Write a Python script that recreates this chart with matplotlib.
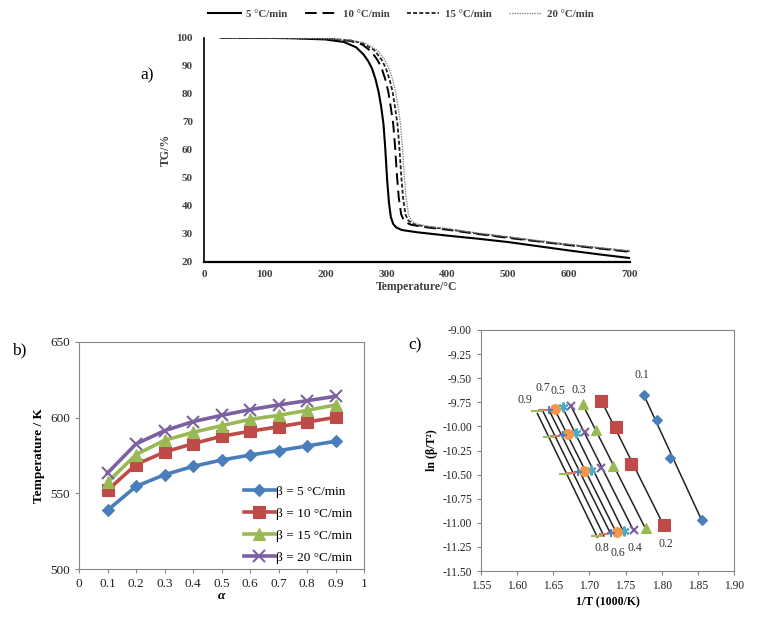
import numpy as np
import matplotlib
matplotlib.use("Agg")
import matplotlib.pyplot as plt

plt.rcParams['font.family'] = ['Liberation Serif', 'DejaVu Serif']

# ---- panel a: TG curves ----
tg_rates = ['5 °C/min', '10 °C/min', '15 °C/min', '20 °C/min']
temp_5 = [27, 100, 150, 200, 230, 250, 262, 270, 276, 282, 287, 291, 295, 298, 301, 304, 307, 311, 316, 325, 350, 400, 450, 500, 550, 600, 650, 700]
tg_5 = [100, 99.9, 99.7, 99.3, 98.4, 96.5, 94, 91.5, 89, 85, 80.5, 75.5, 69, 60, 49, 41, 36, 33.5, 32.3, 31.4, 30.6, 29.4, 28.3, 27.1, 25.6, 24.1, 22.7, 21.4]
temp_10 = [27, 100, 150, 200, 240, 260, 275, 285, 292, 298, 303, 307, 311, 314, 317, 320, 324, 328, 333, 340, 360, 400, 450, 500, 550, 600, 650, 700]
tg_10 = [100, 99.9, 99.8, 99.5, 98.8, 97.5, 95, 92, 89, 85, 80.5, 75, 69, 61, 51, 43, 37, 35, 34, 33.3, 32.5, 31.5, 30.0, 28.6, 27.3, 26.0, 24.8, 23.6]
temp_15 = [27, 100, 150, 200, 240, 260, 280, 292, 299, 305, 310, 314, 318, 321, 324, 327, 331, 335, 340, 347, 365, 400, 450, 500, 550, 600, 650, 700]
tg_15 = [100, 99.9, 99.8, 99.6, 99, 98, 95.5, 92, 89, 85, 80.5, 75, 69, 61, 51, 43, 37, 35, 34, 33.3, 32.6, 31.7, 30.1, 28.8, 27.4, 26.1, 24.9, 23.8]
temp_20 = [27, 100, 150, 200, 240, 265, 285, 297, 304, 310, 315, 319, 323, 326, 329, 332, 336, 340, 345, 352, 370, 400, 450, 500, 550, 600, 650, 700]
tg_20 = [100, 99.9, 99.8, 99.6, 99.1, 98, 95.5, 92, 89, 85, 80.5, 75, 69, 61, 51, 43, 37, 35, 34, 33.4, 32.7, 31.9, 30.3, 29.0, 27.6, 26.3, 25.1, 24.0]

# ---- panel b: temperature vs conversion ----
alpha = [0.1, 0.2, 0.3, 0.4, 0.5, 0.6, 0.7, 0.8, 0.9]
T_b5 = [538.8, 554.6, 562.3, 567.8, 572.0, 575.3, 578.2, 581.3, 584.4]
T_b10 = [552.0, 569.0, 577.3, 582.8, 587.7, 591.0, 594.0, 597.1, 600.2]
T_b15 = [557.3, 575.6, 585.0, 590.3, 594.7, 598.9, 601.5, 604.8, 608.4]
T_b20 = [563.4, 582.6, 591.4, 597.4, 601.5, 605.3, 608.4, 611.2, 614.1]
beta_labels = ['β = 5 °C/min', 'β = 10 °C/min', 'β = 15 °C/min', 'β = 20 °C/min']

# ---- panel c: KAS plot, points ordered beta = 5, 10, 15, 20 ----
c_labels = ['0.1', '0.2', '0.3', '0.4', '0.5', '0.6', '0.7', '0.8', '0.9']
c_x = [
    [1.856, 1.812, 1.794, 1.775],
    [1.803, 1.758, 1.737, 1.716],
    [1.778, 1.732, 1.709, 1.691],
    [1.761, 1.716, 1.694, 1.674],
    [1.748, 1.702, 1.682, 1.663],
    [1.738, 1.692, 1.670, 1.652],
    [1.730, 1.684, 1.663, 1.644],
    [1.720, 1.675, 1.653, 1.636],
    [1.711, 1.666, 1.644, 1.628],
]
c_y = [
    [-10.969, -10.325, -9.938, -9.672],
    [-11.027, -10.385, -10.003, -9.739],
    [-11.055, -10.414, -10.035, -9.769],
    [-11.074, -10.433, -10.053, -9.789],
    [-11.089, -10.450, -10.068, -9.803],
    [-11.100, -10.461, -10.082, -9.816],
    [-11.110, -10.471, -10.091, -9.826],
    [-11.121, -10.482, -10.102, -9.835],
    [-11.132, -10.492, -10.114, -9.845],
]
c_label_pos = [(1.773, -9.47), (1.806, -11.22), (1.685, -9.62), (1.763, -11.26),
               (1.657, -9.63), (1.740, -11.31), (1.636, -9.60), (1.717, -11.26),
               (1.611, -9.73)]

fig = plt.figure(figsize=(7.57, 6.17), dpi=100)
W, H = 757.0, 617.0

def px_axes(l, t, r, b):
    return fig.add_axes([l / W, 1 - b / H, (r - l) / W, (b - t) / H])

# ===== panel a =====
axa = px_axes(204, 37.5, 630, 262)
styles = [dict(color='black', lw=1.5, ls='-'),
          dict(color='black', lw=1.4, ls=(0, (6, 3))),
          dict(color='#222222', lw=1.3, ls=(0, (2.2, 1.2))),
          dict(color='#8a8a8a', lw=1.0, ls=(0, (1, 0.8)))]
for tx, ty, st, lab in zip([temp_5, temp_10, temp_15, temp_20],
                           [tg_5, tg_10, tg_15, tg_20], styles, tg_rates):
    axa.plot(tx, ty, label=lab, **st)
axa.set_xlim(0, 700)
axa.set_ylim(20, 100)
axa.set_xticks(range(0, 701, 100))
axa.set_yticks(range(20, 101, 10))
for s in ['top', 'right']:
    axa.spines[s].set_visible(False)
axa.spines['left'].set_linewidth(1.2)
axa.spines['bottom'].set_linewidth(1.6)
axa.tick_params(length=0, labelsize=8, colors='#404040')
axa.tick_params(axis='y', pad=8)
axa.tick_params(axis='x', pad=6)
for lbl in axa.get_xticklabels() + axa.get_yticklabels():
    lbl.set_fontweight('bold')
axa.set_xlabel('Temperature/°C', fontsize=8.5, fontweight='bold', color='#404040', labelpad=1)
axa.set_ylabel('TG/%', fontsize=8.5, fontweight='bold', color='#404040', labelpad=3)
fig.text(140 / W, 1 - 75 / H, 'a)', fontsize=12.5, va='center')
handles, labels = axa.get_legend_handles_labels()
leg = fig.legend(handles, labels, loc='center', bbox_to_anchor=(401 / W, 1 - 14 / H),
                 ncol=4, frameon=False, fontsize=7.8, handlelength=3.0,
                 columnspacing=1.6, handletextpad=0.5)
for t in leg.get_texts():
    t.set_fontweight('bold')
    t.set_color('#404040')

# ===== panel b =====
axb = px_axes(79, 342, 364, 569)
b_colors = ['#4A7EBB', '#BE4B48', '#98B954', '#7D60A0']
b_markers = ['D', 's', '^', 'x']
b_msize = [6, 9, 8, 8]
for Tv, c, m, ms, lab in zip([T_b5, T_b10, T_b15, T_b20], b_colors, b_markers, b_msize, beta_labels):
    axb.plot(alpha, Tv, color=c, lw=2.6, marker=m, markersize=ms, label=lab,
             markeredgewidth=1.5 if m == 'x' else 0.8)
axb.set_xlim(0, 1)
axb.set_ylim(500, 650)
axb.set_xticks(np.round(np.arange(0, 1.01, 0.1), 1))
axb.set_xticklabels(['0', '0.1', '0.2', '0.3', '0.4', '0.5', '0.6', '0.7', '0.8', '0.9', '1'])
axb.set_yticks([500, 550, 600, 650])
for s in axb.spines.values():
    s.set_color('#868686')
axb.tick_params(direction='out', length=3, color='#868686', labelsize=9.5, labelcolor='#222222')
axb.set_xlabel('α', fontsize=9.5, fontweight='bold', fontstyle='italic', labelpad=0)
axb.set_ylabel('Temperature / K', fontsize=9.5, fontweight='bold', labelpad=4)
axb.legend(loc='lower right', bbox_to_anchor=(1.0, -0.03), frameon=False, fontsize=9.5,
           handlelength=2.3, labelspacing=0.75, handletextpad=0.1)
fig.text(12 / W, 1 - 350 / H, 'b)', fontsize=12.5, va='center')

# ===== panel c =====
axc = px_axes(481, 330, 734, 571)
c_colors = ['#4A7EBB', '#BE4B48', '#98B954', '#7D60A0', '#4BACC6', '#F79646', '#4F81BD', '#D9716F', '#9BBB59']
c_markers = ['D', 's', '^', 'x', (6, 2, 0), 'o', '+', '_', '_']
c_msize = [5, 8, 7, 6, 7, 7, 6, 7, 8]
for xs, ys, c, m, ms, lab, pos in zip(c_x, c_y, c_colors, c_markers, c_msize, c_labels, c_label_pos):
    k, b0 = np.polyfit(xs, ys, 1)
    xl = np.array([min(xs), max(xs)])
    axc.plot(xl, k * xl + b0, color='#222222', lw=1.1, zorder=2)
    axc.plot(xs, ys, ls='none', marker=m, color=c, markersize=ms,
             markeredgewidth=1.5 if m in ('x', '+', '_', (6, 2, 0)) else 0.8, zorder=3)
    axc.text(pos[0], pos[1], lab, fontsize=8.5, ha='center', va='center', color='#333333')
axc.set_xlim(1.55, 1.90)
axc.set_ylim(-11.5, -9.0)
axc.set_xticks(np.round(np.arange(1.55, 1.901, 0.05), 2))
axc.set_xticklabels(['%.2f' % v for v in np.arange(1.55, 1.901, 0.05)])
yt = np.round(np.arange(-11.5, -8.99, 0.25), 2)
axc.set_yticks(yt)
axc.set_yticklabels(['%.2f' % v for v in yt])
for s in axc.spines.values():
    s.set_color('#868686')
axc.tick_params(direction='out', length=3, color='#868686', labelsize=8.3, labelcolor='#222222')
axc.set_xlabel('1/T (1000/K)', fontsize=8.5, fontweight='bold', labelpad=3)
axc.set_ylabel('ln (β/T²)', fontsize=8.5, fontweight='bold', labelpad=3)
fig.text(408 / W, 1 - 345 / H, 'c)', fontsize=12.5, va='center')

fig.savefig('out.png', dpi=100)
